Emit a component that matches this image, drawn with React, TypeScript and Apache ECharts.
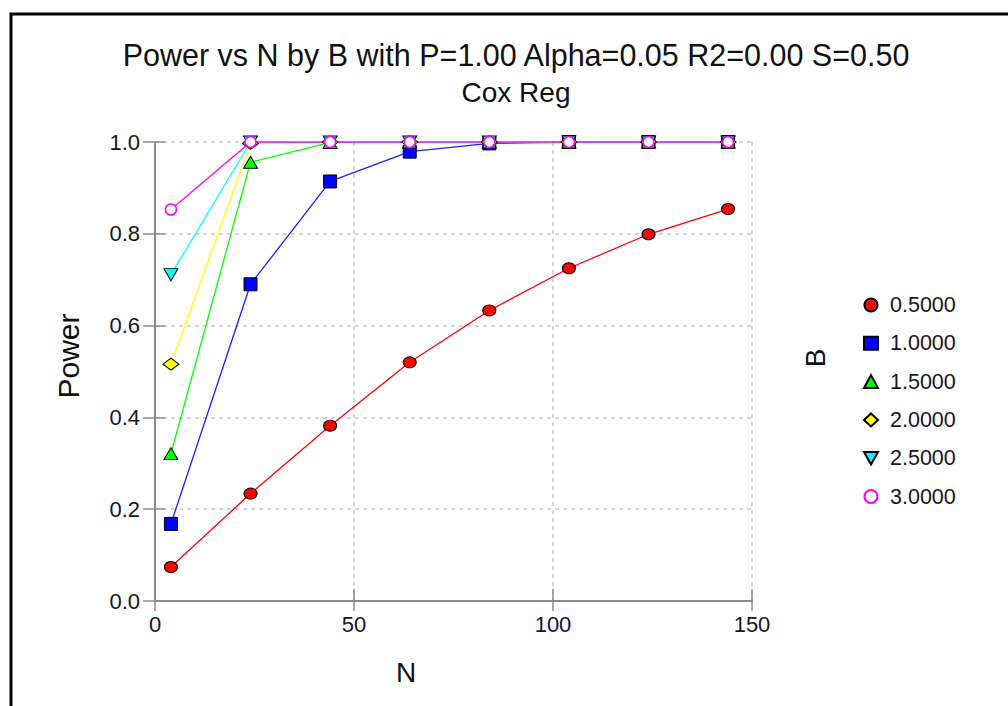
import React, { useEffect, useRef } from 'react';
import * as echarts from 'echarts';

const nValues = [4, 24, 44, 64, 84, 104, 124, 144];
const bLabels = ['0.5000', '1.0000', '1.5000', '2.0000', '2.5000', '3.0000'];
const powerB05 = [0.074, 0.234, 0.382, 0.520, 0.633, 0.725, 0.799, 0.854];
const powerB10 = [0.168, 0.690, 0.914, 0.979, 0.997, 1.0, 1.0, 1.0];
const powerB15 = [0.321, 0.956, 0.999, 1.0, 1.0, 1.0, 1.0, 1.0];
const powerB20 = [0.516, 0.997, 1.0, 1.0, 1.0, 1.0, 1.0, 1.0];
const powerB25 = [0.711, 1.0, 1.0, 1.0, 1.0, 1.0, 1.0, 1.0];
const powerB30 = [0.853, 1.0, 1.0, 1.0, 1.0, 1.0, 1.0, 1.0];
const powerSeries = [powerB05, powerB10, powerB15, powerB20, powerB25, powerB30];

const titleLine1 = 'Power vs N by B with P=1.00 Alpha=0.05 R2=0.00 S=0.50';
const titleLine2 = 'Cox Reg';
const xName = 'N';
const yName = 'Power';
const legendName = 'B';

const FONT = '"Liberation Sans", Arial, sans-serif';
const TEXT = '#15152a';

const styles = [
  { line: '#ff0000', fill: '#ff0000', border: '#000000', bw: 1, symbol: 'circle', size: [13, 11], rot: 0, icon: 'circle' },
  { line: '#1f1fff', fill: '#0000ff', border: '#000000', bw: 1, symbol: 'rect', size: 13, rot: 0, icon: 'rect' },
  { line: '#00ff00', fill: '#00ff00', border: '#000000', bw: 1, symbol: 'triangle', size: [14, 12], rot: 0, icon: 'triangle' },
  { line: '#ffff00', fill: '#ffff00', border: '#000000', bw: 1, symbol: 'diamond', size: [16, 12], rot: 0, icon: 'diamond' },
  { line: '#00ffff', fill: '#00ffff', border: '#000000', bw: 1, symbol: 'triangle', size: [14, 12], rot: 180, icon: 'path://M0,0L10,0L5,9Z' },
  { line: '#ff00ff', fill: '#ffffff', border: '#ff00ff', bw: 1.5, symbol: 'circle', size: 11, rot: 0, icon: 'circle' },
];

const axisColor = '#8c8c8c';
const gridColor = '#c8c8c8';

export default function App() {
  const ref = useRef<HTMLDivElement>(null);
  useEffect(() => {
    if (!ref.current) return;
    const chart = echarts.init(ref.current, undefined, { renderer: 'svg' });
    const series = powerSeries.map((vals, i) => ({
      name: bLabels[i],
      type: 'line',
      xAxisIndex: 0,
      yAxisIndex: 0,
      data: nValues.map((n, j) => [n, vals[j]]),
      symbol: styles[i].symbol,
      symbolSize: styles[i].size,
      symbolRotate: styles[i].rot,
      showAllSymbol: true,
      lineStyle: { color: styles[i].line, width: 1.3 },
      itemStyle: { color: styles[i].fill, borderColor: styles[i].border, borderWidth: styles[i].bw },
      emphasis: { disabled: true },
    }));
    const baseX = { type: 'value', min: 0, max: 150, interval: 50, gridIndex: 0 };
    const baseY = { type: 'value', min: 0, max: 1, interval: 0.2, gridIndex: 0 };
    chart.setOption({
      animation: false,
      backgroundColor: '#ffffff',
      title: {
        text: titleLine1,
        subtext: titleLine2,
        left: 511,
        top: 33,
        textAlign: 'center',
        itemGap: 4,
        textStyle: { fontFamily: FONT, fontSize: 30.5, fontWeight: 'normal', color: '#111', lineHeight: 34 },
        subtextStyle: { fontFamily: FONT, fontSize: 28, fontWeight: 'normal', color: '#111', lineHeight: 32 },
      },
      grid: { left: 155, right: 256, top: 142, bottom: 105, containLabel: false },
      xAxis: [
        {
          ...baseX,
          position: 'bottom',
          axisLine: { show: true, lineStyle: { color: axisColor, width: 2 } },
          axisTick: { show: true, inside: false, length: 10, lineStyle: { color: axisColor, width: 1.5 } },
          axisLabel: { fontFamily: FONT, fontSize: 22, color: TEXT, margin: 12 },
          splitLine: { show: true, lineStyle: { color: gridColor, type: [4, 4], width: 1.5 } },
        },
        {
          ...baseX,
          position: 'bottom',
          axisLine: { show: false },
          axisTick: { show: true, inside: true, length: 12, lineStyle: { color: axisColor, width: 1.5 } },
          axisLabel: { show: false },
          splitLine: { show: false },
        },
      ],
      yAxis: [
        {
          ...baseY,
          position: 'left',
          axisLine: { show: true, lineStyle: { color: axisColor, width: 2 } },
          axisTick: { show: true, inside: false, length: 12, lineStyle: { color: axisColor, width: 1.5 } },
          axisLabel: { fontFamily: FONT, fontSize: 22, color: TEXT, margin: 15, formatter: (v: number) => v.toFixed(1) },
          splitLine: { show: true, lineStyle: { color: gridColor, type: [4, 4], width: 1.5 } },
        },
        {
          ...baseY,
          position: 'left',
          axisLine: { show: false },
          axisTick: { show: true, inside: true, length: 10, lineStyle: { color: axisColor, width: 1.5 } },
          axisLabel: { show: false },
          splitLine: { show: false },
        },
      ],
      legend: {
        orient: 'vertical',
        left: 858,
        top: 289,
        itemWidth: 14,
        itemHeight: 13,
        itemGap: 16.3,
        selectedMode: false,
        data: bLabels.map((b, i) => ({ name: b, icon: styles[i].icon })),
        textStyle: { fontFamily: FONT, fontSize: 21.5, color: TEXT, lineHeight: 22, padding: [0, 0, 0, 7] },
      },
      graphic: [
        {
          type: 'rect',
          shape: { x: 11, y: 14, width: 1200, height: 900 },
          style: { fill: 'none', stroke: '#000', lineWidth: 3 },
          silent: true,
        },
        {
          type: 'text',
          x: 406,
          y: 672,
          style: { text: xName, fontFamily: FONT, fontSize: 28, fill: '#111', align: 'center', verticalAlign: 'middle' },
        },
        {
          type: 'text',
          x: 68,
          y: 356,
          rotation: Math.PI / 2,
          style: { text: yName, fontFamily: FONT, fontSize: 30, fill: '#111', align: 'center', verticalAlign: 'middle' },
        },
        {
          type: 'text',
          x: 815,
          y: 358,
          rotation: Math.PI / 2,
          style: { text: legendName, fontFamily: FONT, fontSize: 28, fill: '#111', align: 'center', verticalAlign: 'middle' },
        },
      ],
      series,
    });
    return () => chart.dispose();
  }, []);
  return <div ref={ref} style={{ position: 'absolute', left: 0, top: 0, width: 1008, height: 706 }} />;
}
